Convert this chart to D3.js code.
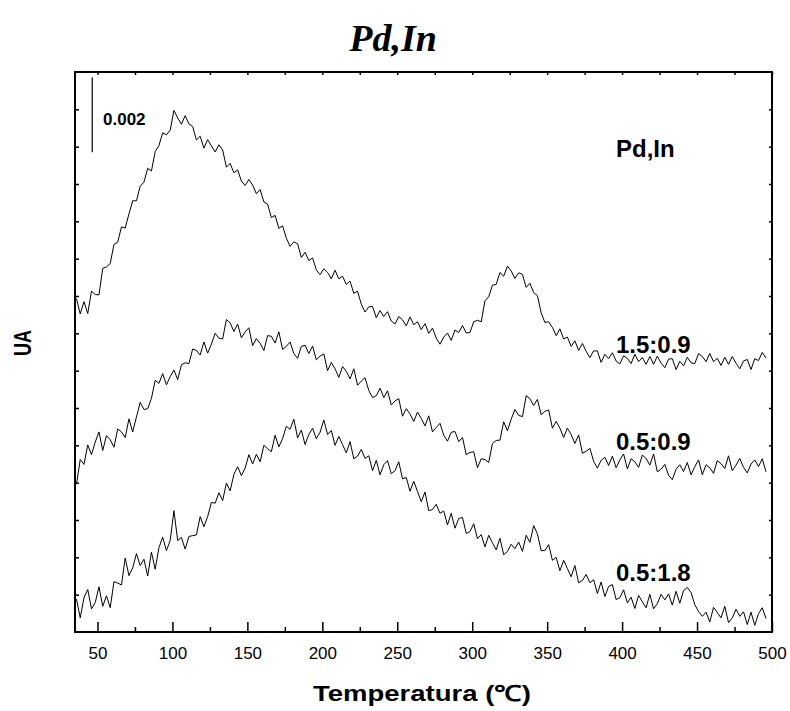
<!DOCTYPE html>
<html>
<head>
<meta charset="utf-8">
<script src="https://cdn.jsdelivr.net/npm/d3@7"></script>
<style>
  html, body { margin: 0; padding: 0; background: #fff; }
  svg { display: block; }
</style>
</head>
<body>
<svg id="chart" width="790" height="711"></svg>
<script>
// Temperature grid (°C)
const temps = [36,38.5,41,43.5,46,48.5,51,53.5,56,58.5,
  61,63.5,66,68.5,71,73.5,76,78.5,81,83.5,
  86,88.5,91,93.5,96,98.5,101,103.5,106,108.5,
  111,113.5,116,118.5,121,123.5,126,128.5,131,133.5,
  136,138.5,141,143.5,146,148.5,151,153.5,156,158.5,
  161,163.5,166,168.5,171,173.5,176,178.5,181,183.5,
  186,188.5,191,193.5,196,198.5,201,203.5,206,208.5,
  211,213.5,216,218.5,221,223.5,226,228.5,231,233.5,
  236,238.5,241,243.5,246,248.5,251,253.5,256,258.5,
  261,263.5,266,268.5,271,273.5,276,278.5,281,283.5,
  286,288.5,291,293.5,296,298.5,301,303.5,306,308.5,
  311,313.5,316,318.5,321,323.5,326,328.5,331,333.5,
  336,338.5,341,343.5,346,348.5,351,353.5,356,358.5,
  361,363.5,366,368.5,371,373.5,376,378.5,381,383.5,
  386,388.5,391,393.5,396,398.5,401,403.5,406,408.5,
  411,413.5,416,418.5,421,423.5,426,428.5,431,433.5,
  436,438.5,441,443.5,446,448.5,451,453.5,456,458.5,
  461,463.5,466,468.5,471,473.5,476,478.5,481,483.5,
  486,488.5,491,493.5,496];

// Signals (units of 0.001 UA, vertically offset as in the figure)
const s15_09 = [8.93,8.52,8.85,8.53,9.13,9.04,9.03,9.74,9.78,9.87,
  10.38,10.44,10.85,10.82,11.2,11.55,11.55,11.94,12.05,12.42,
  12.35,12.87,13.03,13.37,13.32,13.44,13.97,13.77,13.6,13.83,
  13.61,13.54,13.18,13.28,12.96,13.19,13.02,12.86,13.05,12.91,
  12.45,12.55,12.3,12.38,12.08,11.96,12.12,11.97,11.74,11.85,
  11.52,11.46,11.1,11.16,10.81,10.88,10.55,10.33,10.45,10.4,
  10.03,10.17,9.95,10.02,9.7,9.57,9.73,9.63,9.46,9.69,
  9.46,9.53,9.31,9.4,9.07,9.13,8.78,8.57,8.71,8.72,
  8.42,8.61,8.45,8.58,8.33,8.25,8.45,8.36,8.2,8.44,
  8.23,8.31,8.1,8.26,8.0,8.14,7.87,7.71,7.9,8.01,
  7.81,8.09,8.02,8.21,8.01,8.02,8.31,8.35,8.31,8.87,
  8.98,9.29,9.31,9.63,9.53,9.8,9.67,9.47,9.62,9.58,
  9.23,9.34,9.09,9.01,8.55,8.29,8.31,8.16,7.94,8.12,
  7.85,7.9,7.65,7.8,7.54,7.73,7.52,7.35,7.53,7.53,
  7.22,7.44,7.32,7.48,7.26,7.18,7.4,7.33,7.19,7.44,
  7.24,7.35,7.17,7.38,7.17,7.39,7.2,7.08,7.31,7.32,
  7.03,7.25,7.13,7.36,7.21,7.19,7.46,7.38,7.24,7.46,
  7.24,7.33,7.14,7.36,7.17,7.38,7.2,7.05,7.26,7.3,
  7.03,7.32,7.27,7.49,7.34];

const s05_09 = [3.96,4.62,4.49,5.01,4.75,5.09,5.36,4.86,5.26,5.15,
  4.95,5.44,5.36,5.21,5.71,5.36,5.76,6.15,5.96,5.98,
  6.26,6.74,6.66,6.92,6.62,6.84,7.02,6.76,7.16,7.21,
  7.19,7.58,7.54,7.42,7.77,7.47,7.71,8.0,7.87,7.85,
  8.37,8.28,8.05,8.25,7.88,8.04,8.15,7.67,7.86,7.73,
  7.54,7.94,7.92,7.74,8.04,7.57,7.65,7.77,7.46,7.33,
  7.65,7.68,7.46,7.66,7.29,7.39,7.45,7.0,7.22,7.05,
  6.82,7.11,6.98,6.78,7.05,6.61,6.72,6.81,6.47,6.28,
  6.33,6.53,6.28,6.46,6.08,6.19,6.25,5.78,5.98,5.84,
  5.64,5.89,5.72,5.52,5.79,5.36,5.48,5.59,5.27,5.11,
  5.35,5.37,5.1,5.21,4.75,4.81,4.83,4.4,4.64,4.62,
  4.54,5.05,5.13,5.14,5.63,5.39,5.7,5.96,5.8,5.77,
  6.33,6.25,6.07,6.23,5.82,5.91,5.95,5.46,5.64,5.46,
  5.21,5.46,5.29,5.05,5.28,4.79,4.84,4.92,4.57,4.39,
  4.6,4.68,4.46,4.71,4.4,4.61,4.77,4.37,4.64,4.56,
  4.41,4.74,4.65,4.47,4.77,4.29,4.36,4.49,4.2,4.08,
  4.36,4.48,4.3,4.54,4.21,4.43,4.61,4.21,4.48,4.4,
  4.25,4.59,4.51,4.38,4.72,4.32,4.47,4.65,4.41,4.26,
  4.5,4.61,4.43,4.64,4.29];

const s05_18 = [0.88,0.38,0.92,1.14,0.62,0.79,1.21,0.69,0.97,0.65,
  1.35,1.31,1.26,1.98,1.51,1.72,2.1,1.78,1.95,1.5,
  2.14,1.68,2.26,2.54,2.18,2.45,3.25,2.45,2.53,2.22,
  2.56,2.58,2.6,3.09,2.82,3.09,3.47,3.45,3.73,3.52,
  3.99,3.78,4.22,4.43,4.19,4.39,4.75,4.5,4.76,4.56,
  5.0,4.91,4.83,5.27,4.96,5.18,5.51,5.43,5.7,5.2,
  5.41,5.02,5.29,5.46,5.18,5.35,5.68,5.29,5.4,5.0,
  5.24,5.02,4.8,5.1,4.64,4.71,4.89,4.65,4.72,4.32,
  4.6,4.21,4.48,4.59,4.24,4.32,4.56,4.1,4.14,3.77,
  4.04,3.76,3.49,3.75,3.25,3.28,3.42,3.18,3.24,2.87,
  3.18,2.78,3.04,3.07,2.64,2.69,2.9,2.5,2.61,2.28,
  2.59,2.39,2.2,2.51,2.07,2.16,2.35,2.23,2.41,2.16,
  2.59,2.4,2.85,2.63,2.18,2.18,2.34,1.92,2.0,1.64,
  1.92,1.7,1.48,1.78,1.32,1.38,1.54,1.32,1.4,1.03,
  1.34,0.95,1.22,1.27,0.87,0.92,1.13,0.78,0.93,0.63,
  0.98,0.81,0.65,1.01,0.62,0.76,1.01,0.86,1.02,0.72,
  1.09,0.77,1.11,1.19,1.06,0.73,0.55,0.42,0.53,0.27,
  0.66,0.52,0.38,0.69,0.25,0.38,0.61,0.42,0.54,0.2,
  0.53,0.18,0.49,0.65,0.36];

const seriesNames = ["1.5:0.9", "0.5:0.9", "0.5:1.8"];
const xMajorTicks = [50,100,150,200,250,300,350,400,450,500];
const xMinorTicks = [75,125,175,225,275,325,375,425,475];
const yTicks = [1,2,3,4,5,6,7,8,9,10,11,12,13,14];
const scaleBar = [12.85, 14.85]; // 0.002 UA
const scaleBarT = 46.5;

const svg = d3.select("#chart");
svg.append("rect").attr("width", 790).attr("height", 711).attr("fill", "#fff");

const L = 75, R = 772, T = 72, B = 632;
const x = d3.scaleLinear().domain([35, 500]).range([L, R]);
const y = d3.scaleLinear().domain([0, 15]).range([B, T]);

const sans = "'Liberation Sans', Arial, sans-serif";
const serif = "'Liberation Serif', 'Times New Roman', serif";

// Curves
const line = d3.line().x((d, i) => x(temps[i])).y(d => y(d));
[s15_09, s05_09, s05_18].forEach(s => {
  svg.append("path").datum(s).attr("d", line)
    .attr("fill", "none").attr("stroke", "#000").attr("stroke-width", 1)
    .attr("stroke-linejoin", "miter");
});

// Axes
function styleAxis(g) {
  g.select(".domain").remove();
  g.selectAll(".tick line").attr("stroke", "#000").attr("stroke-width", 1.5);
}
svg.append("g").attr("transform", `translate(0,${B})`)
  .call(d3.axisBottom(x).tickValues(xMajorTicks).tickSize(-10).tickPadding(15).tickFormat(d3.format("d")))
  .call(styleAxis)
  .call(g => g.selectAll(".tick text").attr("font-family", sans).attr("font-size", 17).attr("fill", "#000"));
svg.append("g").attr("transform", `translate(0,${B})`)
  .call(d3.axisBottom(x).tickValues(xMinorTicks).tickSize(-5).tickFormat(""))
  .call(styleAxis);
svg.append("g").attr("transform", `translate(0,${T})`)
  .call(d3.axisTop(x).tickValues(xMajorTicks.concat(xMinorTicks)).tickSize(-3).tickFormat(""))
  .call(styleAxis);
svg.append("g").attr("transform", `translate(${L},0)`)
  .call(d3.axisLeft(y).tickValues(yTicks).tickSize(-4).tickFormat(""))
  .call(styleAxis);
svg.append("g").attr("transform", `translate(${R},0)`)
  .call(d3.axisRight(y).tickValues(yTicks).tickSize(-3).tickFormat(""))
  .call(styleAxis);

// Frame
svg.append("rect").attr("x", L).attr("y", T).attr("width", R - L).attr("height", B - T)
  .attr("fill", "none").attr("stroke", "#000").attr("stroke-width", 2);

// Scale bar
svg.append("line").attr("x1", x(scaleBarT)).attr("x2", x(scaleBarT))
  .attr("y1", y(scaleBar[0])).attr("y2", y(scaleBar[1]))
  .attr("stroke", "#000").attr("stroke-width", 1.2);
svg.append("text").attr("x", 103).attr("y", 125).text("0.002")
  .attr("font-family", sans).attr("font-weight", "bold").attr("font-size", 17);

// Labels inside
svg.append("text").attr("x", 616).attr("y", 157).text("Pd,In")
  .attr("font-family", sans).attr("font-weight", "bold").attr("font-size", 24);
const labelY = [353, 450, 581];
seriesNames.forEach((n, i) => {
  svg.append("text").attr("x", 616).attr("y", labelY[i]).text(n)
    .attr("font-family", sans).attr("font-weight", "bold").attr("font-size", 24);
});

// Title
svg.append("text").attr("x", 393).attr("y", 51).attr("text-anchor", "middle").text("Pd,In")
  .attr("font-family", serif).attr("font-weight", "bold").attr("font-style", "italic").attr("font-size", 38);

// Axis titles
svg.append("text").attr("x", 313).attr("y", 701)
  .text("Temperatura (\u2103)")
  .attr("textLength", 218).attr("lengthAdjust", "spacingAndGlyphs")
  .attr("font-family", sans).attr("font-weight", "bold").attr("font-size", 22);
svg.append("text").attr("transform", "translate(31,343) rotate(-90)").attr("text-anchor", "middle")
  .text("UA")
  .attr("font-family", sans).attr("font-weight", "bold").attr("font-size", 23)
  .attr("textLength", 26).attr("lengthAdjust", "spacingAndGlyphs");
</script>
</body>
</html>
